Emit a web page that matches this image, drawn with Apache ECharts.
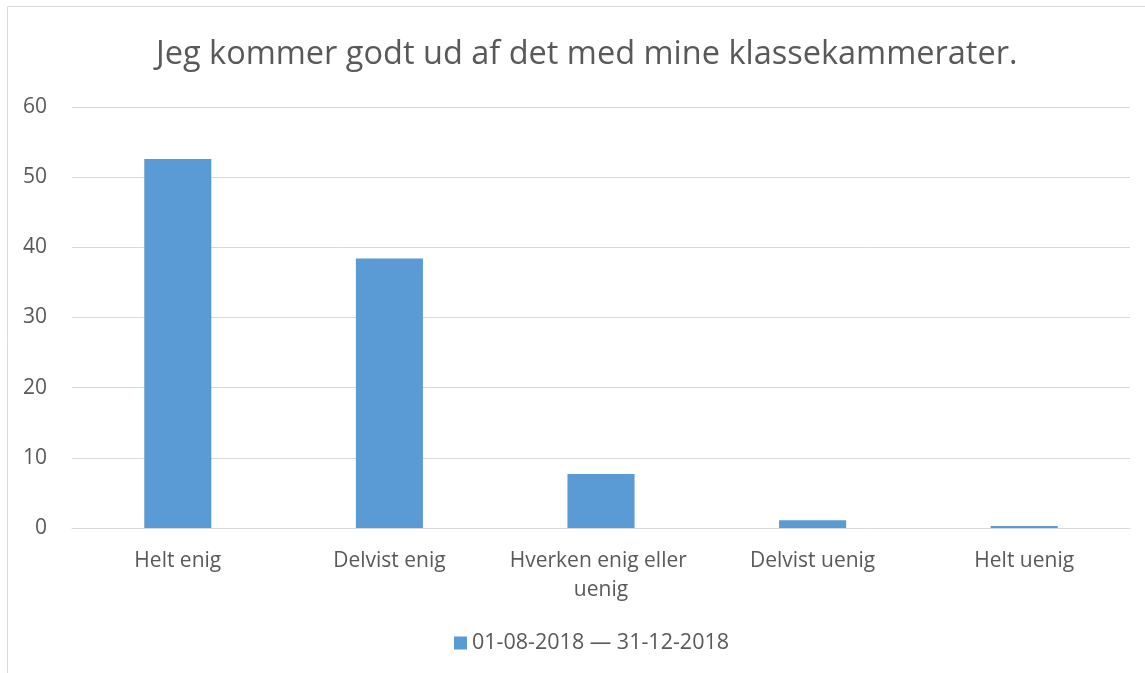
<!DOCTYPE html>
<html>
<head>
<meta charset="utf-8">
<script src="https://cdn.jsdelivr.net/npm/echarts@6/dist/echarts.min.js"></script>
<style>
  html, body { margin: 0; padding: 0; background: #ffffff; }
  #chart { width: 1145px; height: 673px; }
</style>
</head>
<body>
<div id="chart"></div>
<script>
// Survey answers and the share of pupils choosing each one
const categories = ['Helt enig', 'Delvist enig', 'Hverken enig eller uenig', 'Delvist uenig', 'Helt uenig'];
const values = [52.6, 38.4, 7.7, 1.1, 0.3];
const seriesName = '01-08-2018 — 31-12-2018';
const chartTitle = 'Jeg kommer godt ud af det med mine klassekammerater.';
const yTicks = { min: 0, max: 60, interval: 10 };

const font = 'Open Sans';
const textColor = '#595959';

const chart = echarts.init(document.getElementById('chart'));
chart.setOption({
  animation: false,
  backgroundColor: '#ffffff',
  graphic: [{
    type: 'rect',
    shape: { x: 7.5, y: 6.5, width: 1160, height: 700 },
    style: { fill: 'none', stroke: '#d9d9d9', lineWidth: 1 },
    z: -1
  }],
  title: {
    text: chartTitle,
    left: 151,
    top: 33,
    textStyle: { fontFamily: font, fontSize: 32.5, fontWeight: 'normal', color: textColor }
  },
  legend: {
    bottom: 14,
    left: 449,
    itemWidth: 13,
    itemHeight: 13,
    itemGap: 5,
    icon: 'rect',
    textStyle: { fontFamily: font, fontSize: 21.5, color: textColor },
    data: [seriesName]
  },
  grid: { left: 72, right: 15, top: 107, bottom: 145, containLabel: false },
  xAxis: {
    type: 'category',
    data: categories,
    axisLine: { lineStyle: { color: '#d9d9d9', width: 1 } },
    axisTick: { show: false },
    axisLabel: {
      fontFamily: font, fontSize: 21, color: textColor, margin: 19,
      width: 200, overflow: 'break', lineHeight: 29, interval: 0
    }
  },
  yAxis: {
    type: 'value',
    min: yTicks.min,
    max: yTicks.max,
    interval: yTicks.interval,
    axisLine: { show: false },
    axisTick: { show: false },
    splitLine: { lineStyle: { color: '#d9d9d9', width: 1 } },
    axisLabel: { fontFamily: font, fontSize: 21, color: textColor, margin: 25 }
  },
  series: [{
    name: seriesName,
    type: 'bar',
    data: values,
    barWidth: '31.7%',
    itemStyle: { color: '#5b9bd5' }
  }]
});
</script>
</body>
</html>
